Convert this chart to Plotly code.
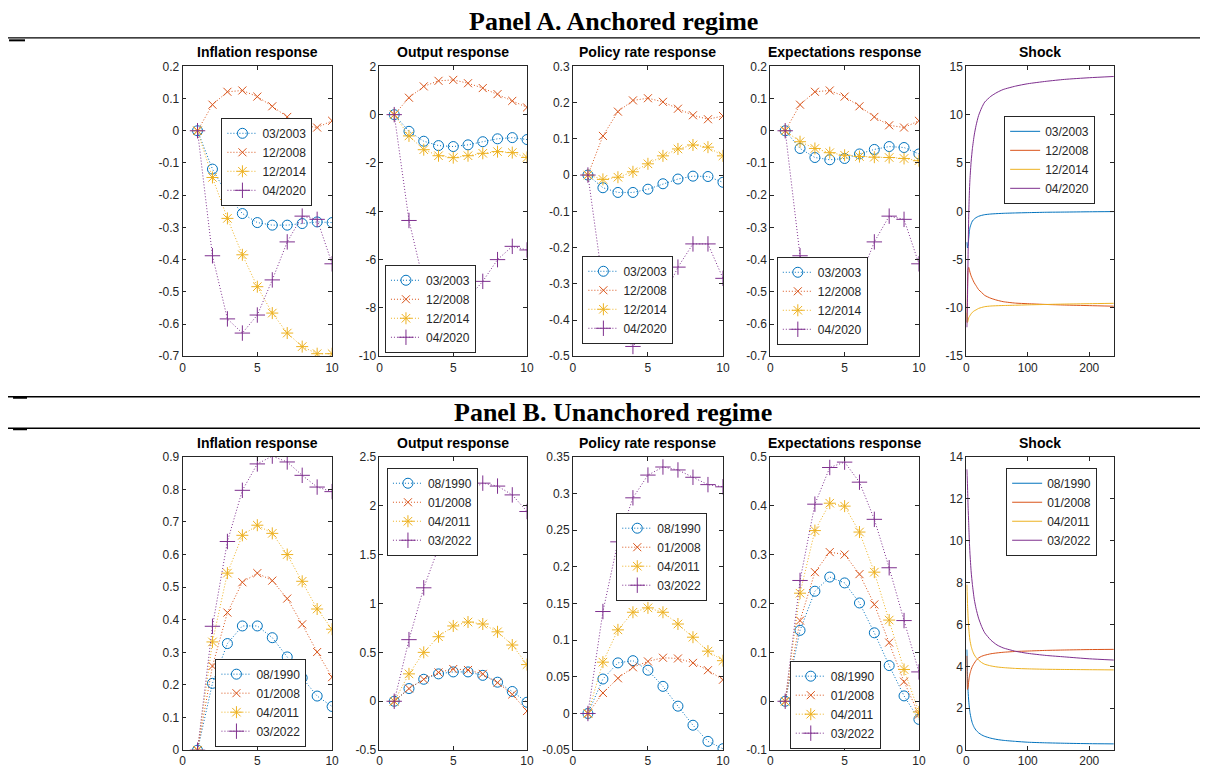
import plotly.graph_objects as go

# ---------------- data ----------------
steps = [1, 2, 3, 4, 5, 6, 7, 8, 9, 10]

# Panel A (anchored regime)
dates_a = ["03/2003", "12/2008", "12/2014", "04/2020"]
infl_a = {
    "03/2003": [0, -0.119, -0.200, -0.257, -0.285, -0.293, -0.293, -0.288, -0.283, -0.285],
    "12/2008": [0, 0.081, 0.121, 0.125, 0.106, 0.076, 0.043, 0.017, 0.010, 0.031],
    "12/2014": [0, -0.145, -0.272, -0.385, -0.484, -0.566, -0.628, -0.670, -0.692, -0.692],
    "04/2020": [0, -0.388, -0.584, -0.628, -0.572, -0.463, -0.345, -0.265, -0.275, -0.413],
}
output_a = {
    "03/2003": [0, -0.69, -1.10, -1.28, -1.32, -1.25, -1.12, -1.00, -0.95, -1.03],
    "12/2008": [0, 0.70, 1.17, 1.40, 1.44, 1.30, 1.10, 0.85, 0.57, 0.30],
    "12/2014": [0, -0.88, -1.45, -1.70, -1.78, -1.70, -1.60, -1.53, -1.57, -1.77],
    "04/2020": [0, -4.38, -6.97, -7.9, -8.1, -7.6, -6.90, -6.00, -5.45, -5.60],
}
policy_a = {
    "03/2003": [0, -0.035, -0.048, -0.048, -0.039, -0.024, -0.011, -0.003, -0.004, -0.020],
    "12/2008": [0, 0.108, 0.175, 0.206, 0.212, 0.202, 0.183, 0.165, 0.154, 0.163],
    "12/2014": [0, -0.012, -0.006, 0.009, 0.031, 0.053, 0.072, 0.083, 0.077, 0.053],
    "04/2020": [0, -0.300, -0.430, -0.473, -0.420, -0.340, -0.254, -0.190, -0.190, -0.285],
}
expect_a = {
    "03/2003": [0, -0.055, -0.083, -0.090, -0.086, -0.072, -0.058, -0.049, -0.052, -0.072],
    "12/2008": [0, 0.081, 0.121, 0.125, 0.106, 0.076, 0.043, 0.017, 0.010, 0.031],
    "12/2014": [0, -0.034, -0.055, -0.068, -0.076, -0.080, -0.082, -0.083, -0.086, -0.093],
    "04/2020": [0, -0.388, -0.584, -0.628, -0.572, -0.463, -0.345, -0.265, -0.275, -0.413],
}
shock_t = [1, 2, 3, 4, 5, 6, 8, 10, 13, 16, 20, 25, 30, 40, 50, 60, 80, 100, 130, 160, 200, 240]
shock_a = {
    "03/2003": [-3.2, -3.8, -3.5, -2.8, -2.1, -1.7, -1.3, -1.0, -0.8, -0.65, -0.52, -0.42, -0.35,
                -0.28, -0.24, -0.21, -0.17, -0.14, -0.10, -0.08, -0.05, -0.03],
    "12/2008": [-11.5, -8.0, -6.0, -5.8, -6.0, -6.3, -6.7, -7.0, -7.4, -7.7, -8.1, -8.4, -8.7,
                -9.0, -9.2, -9.35, -9.5, -9.56, -9.64, -9.7, -9.76, -9.82],
    "12/2014": [-10.5, -11.5, -11.3, -11.0, -10.9, -10.8, -10.6, -10.45, -10.3, -10.2, -10.05, -9.95,
                -9.87, -9.8, -9.77, -9.75, -9.72, -9.68, -9.64, -9.6, -9.56, -9.52],
    "04/2020": [-12.0, -9.0, -4.5, -0.5, 1.8, 3.3, 5.2, 6.5, 7.9, 8.9, 9.9, 10.7, 11.3,
                11.9, 12.3, 12.6, 12.95, 13.2, 13.45, 13.65, 13.82, 13.95],
}

# Panel B (unanchored regime)
dates_b = ["08/1990", "01/2008", "04/2011", "03/2022"]
infl_b = {
    "08/1990": [0, 0.205, 0.327, 0.381, 0.381, 0.345, 0.286, 0.222, 0.166, 0.134],
    "01/2008": [0, 0.258, 0.422, 0.515, 0.543, 0.520, 0.465, 0.386, 0.301, 0.224],
    "04/2011": [0, 0.332, 0.543, 0.659, 0.690, 0.665, 0.600, 0.518, 0.433, 0.371],
    "03/2022": [0, 0.380, 0.640, 0.797, 0.878, 0.902, 0.884, 0.843, 0.807, 0.793],
}
output_b = {
    "08/1990": [0, 0.13, 0.225, 0.28, 0.30, 0.30, 0.265, 0.195, 0.10, -0.01],
    "01/2008": [0, 0.13, 0.225, 0.295, 0.33, 0.32, 0.28, 0.19, 0.07, -0.10],
    "04/2011": [0, 0.28, 0.50, 0.66, 0.77, 0.81, 0.79, 0.71, 0.575, 0.375],
    "03/2022": [0, 0.63, 1.16, 1.57, 1.92, 2.15, 2.23, 2.20, 2.11, 1.94],
}
policy_b = {
    "08/1990": [0, 0.047, 0.069, 0.072, 0.059, 0.037, 0.010, -0.016, -0.038, -0.048],
    "01/2008": [0, 0.028, 0.048, 0.063, 0.071, 0.076, 0.075, 0.069, 0.059, 0.046],
    "04/2011": [0, 0.070, 0.114, 0.138, 0.144, 0.138, 0.122, 0.104, 0.085, 0.072],
    "03/2022": [0, 0.139, 0.234, 0.294, 0.325, 0.336, 0.332, 0.322, 0.312, 0.309],
}
expect_b = {
    "08/1990": [0, 0.145, 0.225, 0.254, 0.242, 0.201, 0.140, 0.073, 0.011, -0.037],
    "01/2008": [0, 0.165, 0.264, 0.305, 0.300, 0.260, 0.198, 0.120, 0.040, -0.027],
    "04/2011": [0, 0.221, 0.349, 0.405, 0.399, 0.346, 0.264, 0.166, 0.065, -0.022],
    "03/2022": [0, 0.247, 0.403, 0.478, 0.489, 0.448, 0.372, 0.273, 0.165, 0.060],
}
shock_b = {
    "08/1990": [4.8, 3.6, 2.8, 2.35, 2.05, 1.8, 1.5, 1.28, 1.08, 0.95, 0.83, 0.73, 0.66,
                0.57, 0.51, 0.47, 0.42, 0.38, 0.35, 0.33, 0.31, 0.30],
    "01/2008": [4.5, 2.9, 3.0, 3.3, 3.5, 3.65, 3.85, 4.0, 4.15, 4.28, 4.4, 4.48, 4.53,
                4.6, 4.64, 4.67, 4.71, 4.73, 4.76, 4.78, 4.80, 4.81],
    "04/2011": [7.9, 7.0, 6.3, 5.85, 5.5, 5.25, 4.95, 4.75, 4.55, 4.42, 4.3, 4.18, 4.1,
                4.02, 3.97, 3.94, 3.9, 3.88, 3.86, 3.85, 3.84, 3.83],
    "03/2022": [13.4, 12.6, 11.6, 10.8, 10.0, 9.4, 8.5, 7.9, 7.2, 6.75, 6.3, 5.9, 5.6,
                5.25, 5.02, 4.88, 4.72, 4.62, 4.52, 4.45, 4.36, 4.30],
}

panel_titles = ["Panel A. Anchored regime", "Panel B. Unanchored regime"]
sub_titles = ["Inflation response", "Output response", "Policy rate response",
              "Expectations response", "Shock"]

# tick values / labels
resp_xticks = [0, 5, 10]
shock_xticks = [0, 100, 200]
yt_a = [
    ([0.2, 0.1, 0, -0.1, -0.2, -0.3, -0.4, -0.5, -0.6, -0.7],
     ["0.2", "0.1", "0", "-0.1", "-0.2", "-0.3", "-0.4", "-0.5", "-0.6", "-0.7"]),
    ([2, 0, -2, -4, -6, -8, -10], ["2", "0", "-2", "-4", "-6", "-8", "-10"]),
    ([0.3, 0.2, 0.1, 0, -0.1, -0.2, -0.3, -0.4, -0.5],
     ["0.3", "0.2", "0.1", "0", "-0.1", "-0.2", "-0.3", "-0.4", "-0.5"]),
    ([0.2, 0.1, 0, -0.1, -0.2, -0.3, -0.4, -0.5, -0.6, -0.7],
     ["0.2", "0.1", "0", "-0.1", "-0.2", "-0.3", "-0.4", "-0.5", "-0.6", "-0.7"]),
    ([15, 10, 5, 0, -5, -10, -15], ["15", "10", "5", "0", "-5", "-10", "-15"]),
]
yt_b = [
    ([0, 0.1, 0.2, 0.3, 0.4, 0.5, 0.6, 0.7, 0.8, 0.9],
     ["0", "0.1", "0.2", "0.3", "0.4", "0.5", "0.6", "0.7", "0.8", "0.9"]),
    ([-0.5, 0, 0.5, 1, 1.5, 2, 2.5], ["-0.5", "0", "0.5", "1", "1.5", "2", "2.5"]),
    ([-0.05, 0, 0.05, 0.1, 0.15, 0.2, 0.25, 0.3, 0.35],
     ["-0.05", "0", "0.05", "0.1", "0.15", "0.2", "0.25", "0.3", "0.35"]),
    ([-0.1, 0, 0.1, 0.2, 0.3, 0.4, 0.5], ["-0.1", "0", "0.1", "0.2", "0.3", "0.4", "0.5"]),
    ([0, 2, 4, 6, 8, 10, 12, 14], ["0", "2", "4", "6", "8", "10", "12", "14"]),
]
yr_a = [[-0.7, 0.2], [-10, 2], [-0.5, 0.3], [-0.7, 0.2], [-15, 15]]
yr_b = [[0, 0.9], [-0.5, 2.5], [-0.05, 0.35], [-0.1, 0.5], [0, 14]]

# ---------------- style / layout ----------------
OFF = 8                     # default page margin around the plot div
W, H = 1208 - 2 * OFF, 784 - 2 * OFF
# empirical mapping between page and photographed picture
SX, SY, OY = 0.9945, 0.982, 6.3


def px(X):
    return (X / SX - OFF) / W


def py(Y):
    return 1 - ((Y - OY) / SY - OFF) / H


colors = ["#0072BD", "#D95319", "#EDB120", "#7E2F8E"]
symbols = ["circle-open", "x-thin-open", "asterisk-open", "cross-thin-open"]
msizes = [10, 8, 10, 11]
AX = "#262626"
SANS = "Liberation Sans, Arial, Helvetica, sans-serif"
SERIF = "Liberation Serif, Times New Roman, serif"

col_px = [(180, 330), (377.5, 525.5), (571.5, 722), (769.5, 918.5), (966, 1114)]
row_px = [(65.5, 355.5), (456, 749.5)]
# (left x, anchor y, anchor side)
legend_px = [
    [(219, 161, "middle"), (383, 352, "bottom"), (581, 343, "bottom"),
     (776, 344, "bottom"), (1004, 115, "top")],
    [(213, 746, "bottom"), (385, 467, "top"), (615, 556, "middle"),
     (789, 748, "bottom"), (1006, 467, "top")],
]

fig = go.Figure()
layout = dict(
    width=W, height=H, margin=dict(l=0, r=0, t=0, b=0),
    paper_bgcolor="white", plot_bgcolor="white",
    font=dict(family=SANS, size=12, color=AX),
)

annotations = []
shapes = []

panels = [
    (dates_a, [infl_a, output_a, policy_a, expect_a, shock_a], yt_a, yr_a),
    (dates_b, [infl_b, output_b, policy_b, expect_b, shock_b], yt_b, yr_b),
]

k = 0
for r, (dates, series, yts, yrs) in enumerate(panels):
    for c in range(5):
        k += 1
        xa = "xaxis" if k == 1 else f"xaxis{k}"
        ya = "yaxis" if k == 1 else f"yaxis{k}"
        xr = "x" if k == 1 else f"x{k}"
        yr = "y" if k == 1 else f"y{k}"
        lg = "legend" if k == 1 else f"legend{k}"
        x0, x1 = col_px[c]
        y0, y1 = row_px[r]
        is_shock = c == 4
        xt = shock_xticks if is_shock else resp_xticks
        layout[xa] = dict(
            domain=[px(x0), px(x1)], anchor=yr,
            range=[0, 240] if is_shock else [0, 10],
            tickvals=xt, ticktext=[str(v) for v in xt],
            ticks="inside", ticklen=4, tickcolor=AX, tickwidth=0.8,
            showline=True, linecolor=AX, linewidth=0.8, mirror="ticks",
            showgrid=False, zeroline=False,
            tickfont=dict(family=SANS, size=12, color=AX),
        )
        layout[ya] = dict(
            domain=[py(y1), py(y0)], anchor=xr,
            range=yrs[c], tickvals=yts[c][0], ticktext=yts[c][1],
            ticks="inside", ticklen=4, tickcolor=AX, tickwidth=0.8,
            showline=True, linecolor=AX, linewidth=0.8, mirror="ticks",
            showgrid=False, zeroline=False,
            tickfont=dict(family=SANS, size=12, color=AX),
        )
        lx, ly, side = legend_px[r][c]
        layout[lg] = dict(
            x=px(lx), y=py(ly), xanchor="left", yanchor=side,
            bgcolor="white", bordercolor=AX, borderwidth=1,
            font=dict(family=SANS, size=12, color=AX),
            itemwidth=30, tracegroupgap=0,
        )
        for i, d in enumerate(dates):
            if is_shock:
                fig.add_trace(go.Scatter(
                    x=shock_t, y=series[c][d], mode="lines", name=d,
                    line=dict(color=colors[i], width=1, shape="spline", smoothing=0.6),
                    xaxis=xr, yaxis=yr, legend=lg, showlegend=True,
                ))
            else:
                fig.add_trace(go.Scatter(
                    x=steps, y=series[c][d], mode="lines+markers", name=d,
                    line=dict(color=colors[i], width=1, dash="1px,2px"),
                    marker=dict(symbol=symbols[i], size=msizes[i],
                                color=colors[i], line=dict(color=colors[i], width=1)),
                    xaxis=xr, yaxis=yr, legend=lg, showlegend=True,
                ))
        annotations.append(dict(
            text=f"<b>{sub_titles[c]}</b>", x=px((x0 + x1) / 2), y=py(y0 - 4),
            xref="paper", yref="paper", xanchor="center", yanchor="bottom",
            showarrow=False, font=dict(family=SANS, size=14, color="black"),
        ))

# panel headings
for r, ty in enumerate([21, 412]):
    annotations.append(dict(
        text=f"<b>{panel_titles[r]}</b>", x=px(612), y=py(ty),
        xref="paper", yref="paper", xanchor="center", yanchor="middle",
        showarrow=False, font=dict(family=SERIF, size=26, color="black"),
    ))


def hline(yy, width, x0=0, x1=1208):
    shapes.append(dict(type="line", xref="paper", yref="paper",
                       x0=px(x0), x1=px(x1), y0=py(yy), y1=py(yy),
                       line=dict(color="black", width=width)))


hline(37, 1.3)
hline(39.5, 2, 6, 22)
hline(396, 1.3)
hline(397, 2, 10, 24)
hline(427.5, 1.3)
hline(428.5, 2, 10, 24)

layout["annotations"] = annotations
layout["shapes"] = shapes
fig.update_layout(**layout)
fig.write_html("out.html")
